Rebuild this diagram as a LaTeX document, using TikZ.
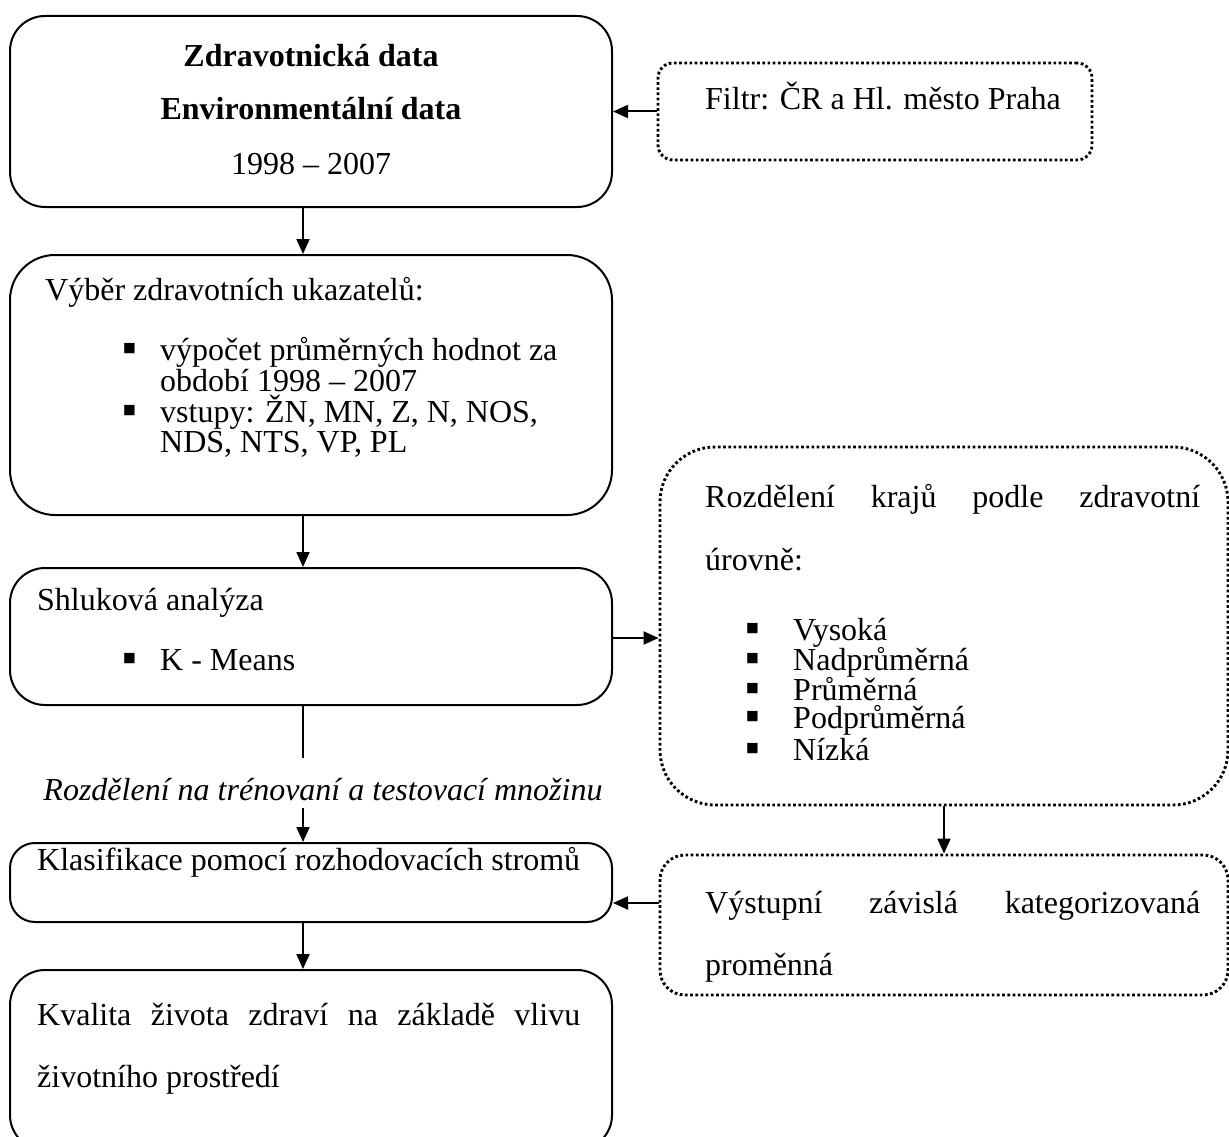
\documentclass[tikz,border=0pt]{standalone}
\usepackage{fontspec}
\setmainfont{Liberation Serif}
\usetikzlibrary{arrows.meta,calc}
\newcommand{\blt}{\raisebox{-1.5pt}{\scalebox{1.3}{▪}}}
\tikzset{
  solidbox/.style={draw=black, line width=2pt, rounded corners=#1, inner sep=0pt},
  dotbox/.style={draw=black, line width=2.9pt, dash pattern=on 2.7pt off 2.5pt, rounded corners=#1, inner sep=0pt},
  txt/.style={inner sep=0pt, anchor=base west},
  ctxt/.style={inner sep=0pt, anchor=base},
  conn/.style={draw=black, line width=2pt, -{Triangle[length=15pt,width=13pt]}},
  plain/.style={draw=black, line width=2pt},
  bul/.style={inner sep=0pt, anchor=base west}
}
\begin{document}
\begin{tikzpicture}[x=1pt,y=-1pt,font=\fontsize{32}{37}\selectfont]
\useasboundingbox (0,0) rectangle (1229,1137);
\fill[white] (0,0) rectangle (1229,1137);

% boxes
\node[solidbox=35pt, minimum width=602pt, minimum height=191pt] (A) at (311,111.5) {};
\node[dotbox=15pt, minimum width=434pt, minimum height=97pt] (Fl) at (875,111.5) {};
\node[solidbox=45pt, minimum width=602pt, minimum height=260pt] (B) at (311,385) {};
\node[solidbox=35pt, minimum width=602pt, minimum height=137pt] (C) at (311,636.5) {};
\node[solidbox=25pt, minimum width=602pt, minimum height=79pt] (D) at (311,882.5) {};
\node[solidbox=35pt, minimum width=602pt, minimum height=180pt] (E) at (311,1060) {};
\node[dotbox=55pt, minimum width=568pt, minimum height=358pt] (F) at (944,626) {};
\node[dotbox=25pt, minimum width=568pt, minimum height=140pt] (G) at (944,925) {};

% helper coordinates
\coordinate (m) at (303,0);
\coordinate (s1) at (303,758);
\coordinate (s2) at (303,808);
\coordinate (gd) at (0,903);
\coordinate (cf) at (0,638);

% texts in A
\node[ctxt] (a1) at (311,67) {\textbf{Zdravotnická data}};
\node[ctxt] (a2) at (311,120) {\textbf{Environmentální data}};
\node[ctxt] (a3) at (311,175) {1998 – 2007};

% filter
\node[txt] (f1) at (705,110) {Filtr: ČR a Hl. město Praha};

% B
\node[txt] (b0) at (45,300) {Výběr zdravotních ukazatelů:};
\node[bul] (bb1) at (122,360) {\blt};
\node[txt] (b1) at (160,360) {výpočet průměrných hodnot za};
\node[txt] (b2) at (160,391) {období 1998 – 2007};
\node[bul] (bb2) at (122,422) {\blt};
\node[txt] (b3) at (160,422) {vstupy: ŽN, MN, Z, N, NOS,};
\node[txt] (b4) at (160,452) {NDS, NTS, VP, PL};

% C
\node[txt] (c0) at (37,610) {Shluková analýza};
\node[bul] (cb1) at (122,670) {\blt};
\node[txt] (c1) at (160,670) {K - Means};

% split label
\node[ctxt] (lab) at (323,800) {\itshape Rozdělení na trénovaní a testovací množinu};

% D
\node[txt] (d0) at (37,870) {Klasifikace pomocí rozhodovacích stromů};

% E
\node[txt] (e1) at (37,1025) {\hbox to 543pt{Kvalita\hfil života\hfil zdraví\hfil na\hfil základě\hfil vlivu}};
\node[txt] (e2) at (37,1087) {životního prostředí};

% F
\node[txt] (g1) at (705,507) {\hbox to 495pt{Rozdělení\hfil krajů\hfil podle\hfil zdravotní}};
\node[txt] (g2) at (705,570) {úrovně:};
\node[bul] (fb1) at (745,640) {\blt};
\node[txt] (f1a) at (793,640) {Vysoká};
\node[bul] (fb2) at (745,670) {\blt};
\node[txt] (f2a) at (793,670) {Nadprůměrná};
\node[bul] (fb3) at (745,700) {\blt};
\node[txt] (f3a) at (793,700) {Průměrná};
\node[bul] (fb4) at (745,728) {\blt};
\node[txt] (f4a) at (793,728) {Podprůměrná};
\node[bul] (fb5) at (745,760) {\blt};
\node[txt] (f5a) at (793,760) {Nízká};

% G
\node[txt] (h1) at (705,913) {\hbox to 495pt{Výstupní\hfil závislá\hfil kategorizovaná}};
\node[txt] (h2) at (705,975) {proměnná};

% connectors
\draw[conn] (Fl.west) -- (A.east);
\draw[conn] (A.south -| m) -- (B.north -| m);
\draw[conn] (B.south -| m) -- (C.north -| m);
\draw[plain] (C.south -| m) -- (s1);
\draw[conn] (s2) -- (D.north -| m);
\draw[conn] (D.south -| m) -- (E.north -| m);
\draw[conn] (C.east |- cf) -- (F.west |- cf);
\draw[conn] (F.south) -- (G.north);
\draw[conn] (G.west |- gd) -- (D.east |- gd);
\end{tikzpicture}
\end{document}
